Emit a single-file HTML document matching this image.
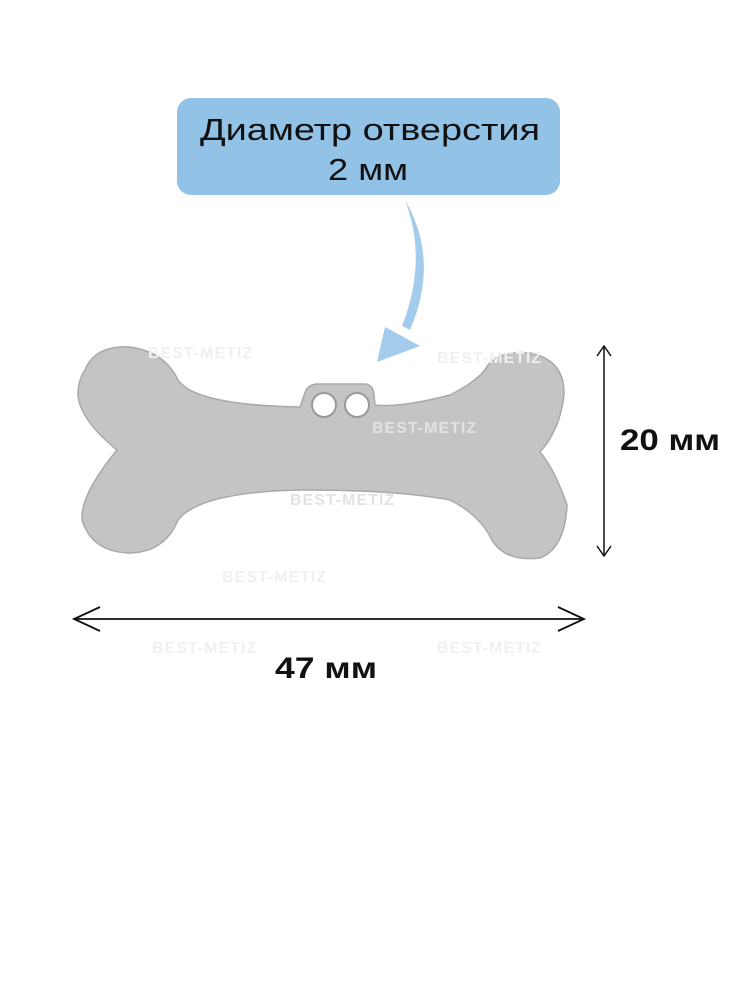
<!DOCTYPE html>
<html><head><meta charset="utf-8"><style>
html,body{margin:0;padding:0;background:#fff;}
body{width:750px;height:1000px;position:relative;overflow:hidden;font-family:"Liberation Sans",sans-serif;}
</style></head><body>
<svg width="750" height="1000" viewBox="0 0 750 1000" style="position:absolute;left:0;top:0">
<rect x="177" y="98" width="383" height="97" rx="14" fill="#93c2e7"/>
<text x="200" y="140" font-size="31" textLength="340" lengthAdjust="spacingAndGlyphs" fill="#111" font-family="Liberation Sans, sans-serif">Диаметр отверстия</text>
<text x="328" y="180" font-size="31" textLength="80" lengthAdjust="spacingAndGlyphs" fill="#111" font-family="Liberation Sans, sans-serif">2 мм</text>
<path d="M405 200 Q440 260 410 330 L402 326 Q428 260 405 200 Z" fill="#a3cbeb"/>
<path d="M385 327 L420 346 L377 362 Z" fill="#a3cbeb"/>
<path d="M85 370 Q95 345 130 347 Q165 352 178 380 Q195 405 300 407 L306 390 Q310 384 318 384 L366 384 Q374 386 374 396 L375 405 Q400 408 450 395 Q480 380 488 365 Q500 350 530 353 Q565 360 564 395 Q560 430 540 452 Q555 470 567 505 Q565 548 540 558 Q505 562 492 540 Q480 515 450 500 Q400 490 300 490 Q200 492 178 520 Q165 552 130 553 Q92 552 82 520 Q80 495 117 450 Q80 420 78 395 Q78 380 85 370 Z" fill="#c4c4c4" stroke="#a9a9a9" stroke-width="1.5"/>
<circle cx="324" cy="405" r="12" fill="#fff" stroke="#999" stroke-width="2"/>
<circle cx="357" cy="405" r="12" fill="#fff" stroke="#999" stroke-width="2"/>
<g font-size="16" font-weight="bold" fill="#f0f0f0" font-family="Liberation Sans, sans-serif" letter-spacing="1">
<text x="148" y="358">BEST-METIZ</text>
<text x="437" y="363">BEST-METIZ</text>
<text x="372" y="433" fill="#e2e2e2">BEST-METIZ</text>
<text x="290" y="505" fill="#e2e2e2">BEST-METIZ</text>
<text x="222" y="582">BEST-METIZ</text>
<text x="152" y="653">BEST-METIZ</text>
<text x="437" y="653">BEST-METIZ</text>
</g>
<line x1="604" y1="346" x2="604" y2="556" stroke="#111" stroke-width="1.5"/>
<path d="M597 356 L604 346 L611 356" fill="none" stroke="#111" stroke-width="1.5"/>
<path d="M597 546 L604 556 L611 546" fill="none" stroke="#111" stroke-width="1.5"/>
<line x1="74" y1="619" x2="584" y2="619" stroke="#111" stroke-width="1.8"/>
<path d="M100 607 L74 619 L100 631" fill="none" stroke="#111" stroke-width="1.8"/>
<path d="M558 607 L584 619 L558 631" fill="none" stroke="#111" stroke-width="1.8"/>
<text x="620" y="450" font-size="30" font-weight="bold" textLength="100" lengthAdjust="spacingAndGlyphs" fill="#111" font-family="Liberation Sans, sans-serif">20 мм</text>
<text x="275" y="678" font-size="30" font-weight="bold" textLength="102" lengthAdjust="spacingAndGlyphs" fill="#111" font-family="Liberation Sans, sans-serif">47 мм</text>
</svg>
</body></html>
